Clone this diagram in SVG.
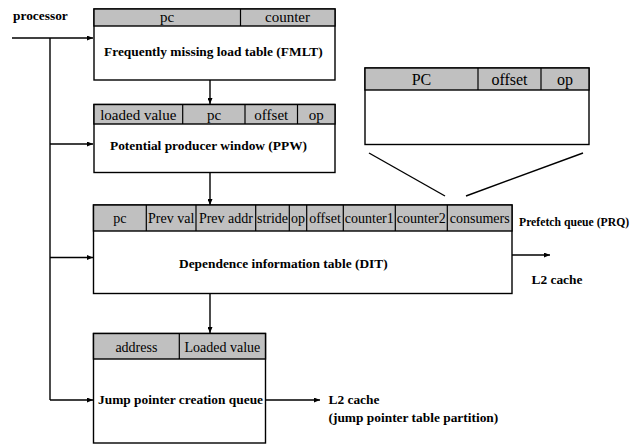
<svg xmlns="http://www.w3.org/2000/svg" width="639" height="447" viewBox="0 0 639 447">
<defs>
<marker id="arr" markerWidth="6" markerHeight="5" refX="6" refY="2.5" orient="auto" markerUnits="userSpaceOnUse">
<path d="M0,0 L6,2.5 L0,5 z" fill="#000"/>
</marker>
<style>
.box{fill:#fff;stroke:#000;stroke-width:1.4}
.hdr{fill:#c0c0c0;stroke:#000;stroke-width:1.4}
.div{stroke:#000;stroke-width:1.2}
.ht{font-family:"Liberation Serif","Times New Roman",serif;font-size:14px;fill:#000;text-anchor:middle}
.bt{font-family:"Liberation Serif","Times New Roman",serif;font-size:13.4px;font-weight:bold;fill:#000}
.ln{stroke:#000;stroke-width:1.4;fill:none}
</style>
</defs>
<rect width="639" height="447" fill="#fff"/>

<g id="connectors">
<line class="ln" x1="12" y1="38" x2="93" y2="38" marker-end="url(#arr)"/>
<line class="ln" x1="50" y1="38" x2="50" y2="400"/>
<line class="ln" x1="50" y1="144" x2="93" y2="144" marker-end="url(#arr)"/>
<line class="ln" x1="50" y1="257.5" x2="93" y2="257.5" marker-end="url(#arr)"/>
<line class="ln" x1="50" y1="400" x2="93" y2="400" marker-end="url(#arr)"/>
<line class="ln" x1="210" y1="80" x2="210" y2="104" marker-end="url(#arr)"/>
<line class="ln" x1="210" y1="173" x2="210" y2="205" marker-end="url(#arr)"/>
<line class="ln" x1="210" y1="293" x2="210" y2="333" marker-end="url(#arr)"/>
<line class="ln" x1="512" y1="255" x2="550" y2="255" marker-end="url(#arr)"/>
<line class="ln" x1="265.5" y1="400" x2="320" y2="400" marker-end="url(#arr)"/>
<line class="ln" x1="369" y1="153" x2="445" y2="196" stroke-width="1.2"/>
<line class="ln" x1="583" y1="153" x2="466" y2="196" stroke-width="1.2"/>
</g>

<g id="processor">
<text class="bt" x="13" y="20">processor</text>
</g>

<g id="fmlt">
<rect class="box" x="94" y="9" width="241" height="71"/>
<rect class="hdr" x="94" y="9" width="241" height="17"/>
<line class="div" x1="240.5" y1="9" x2="240.5" y2="26"/>
<text class="ht" x="167" y="22" style="font-size:15px">pc</text>
<text class="ht" x="287.5" y="22" style="font-size:15px">counter</text>
<text class="bt" x="104" y="56">Frequently missing load table (FMLT)</text>
</g>

<g id="ppw">
<rect class="box" x="94" y="104.5" width="241" height="68"/>
<rect class="hdr" x="94" y="104.5" width="241" height="19.5"/>
<line class="div" x1="182.7" y1="104.5" x2="182.7" y2="124"/>
<line class="div" x1="245" y1="104.5" x2="245" y2="124"/>
<line class="div" x1="297.5" y1="104.5" x2="297.5" y2="124"/>
<text class="ht" x="138.3" y="119.5" style="font-size:15px">loaded value</text>
<text class="ht" x="214" y="119.5" style="font-size:15px">pc</text>
<text class="ht" x="271.3" y="119.5" style="font-size:15px">offset</text>
<text class="ht" x="316.3" y="119.5" style="font-size:15px">op</text>
<text class="bt" x="110" y="150">Potential producer window (PPW)</text>
</g>

<g id="prq">
<rect class="box" x="365" y="68" width="224" height="76.5"/>
<rect class="hdr" x="365" y="68" width="224" height="22"/>
<line class="div" x1="478" y1="68" x2="478" y2="90"/>
<line class="div" x1="541" y1="68" x2="541" y2="90"/>
<text class="ht" x="421.5" y="85" style="font-size:16px">PC</text>
<text class="ht" x="509.5" y="85" style="font-size:16px">offset</text>
<text class="ht" x="565" y="85" style="font-size:16px">op</text>
</g>

<g id="dit">
<rect class="box" x="93.5" y="205" width="418.5" height="88.5"/>
<rect class="hdr" x="93.5" y="205" width="418.5" height="26"/>
<line class="div" x1="146.3" y1="205" x2="146.3" y2="231"/>
<line class="div" x1="196" y1="205" x2="196" y2="231"/>
<line class="div" x1="255.7" y1="205" x2="255.7" y2="231"/>
<line class="div" x1="289.3" y1="205" x2="289.3" y2="231"/>
<line class="div" x1="306.7" y1="205" x2="306.7" y2="231"/>
<line class="div" x1="343.3" y1="205" x2="343.3" y2="231"/>
<line class="div" x1="395.3" y1="205" x2="395.3" y2="231"/>
<line class="div" x1="447.3" y1="205" x2="447.3" y2="231"/>
<text class="ht" x="119.9" y="222.5">pc</text>
<text class="ht" x="171.2" y="222.5">Prev val</text>
<text class="ht" x="225.9" y="222.5">Prev addr</text>
<text class="ht" x="272.5" y="222.5">stride</text>
<text class="ht" x="298" y="222.5">op</text>
<text class="ht" x="325" y="222.5">offset</text>
<text class="ht" x="369.3" y="222.5">counter1</text>
<text class="ht" x="421.3" y="222.5">counter2</text>
<text class="ht" x="479.7" y="222.5">consumers</text>
<text class="bt" x="179" y="268">Dependence information table (DIT)</text>
</g>

<g id="prq-label">
<text class="bt" x="519" y="226" style="font-size:11.7px">Prefetch queue (PRQ)</text>
</g>

<g id="l2-dit">
<text class="bt" x="531.5" y="284">L2 cache</text>
</g>

<g id="jpcq">
<rect class="box" x="93.5" y="333.5" width="172" height="109.5"/>
<rect class="hdr" x="93.5" y="333.5" width="172" height="25.5"/>
<line class="div" x1="179.3" y1="333.5" x2="179.3" y2="359"/>
<text class="ht" x="136.4" y="351.5">address</text>
<text class="ht" x="222.4" y="351.5">Loaded value</text>
<text class="bt" x="98" y="403.5">Jump pointer creation queue</text>
</g>

<g id="l2-jpt">
<text class="bt" x="328.5" y="403.5">L2 cache</text>
<text class="bt" x="328.5" y="422">(jump pointer table partition)</text>
</g>
</svg>
